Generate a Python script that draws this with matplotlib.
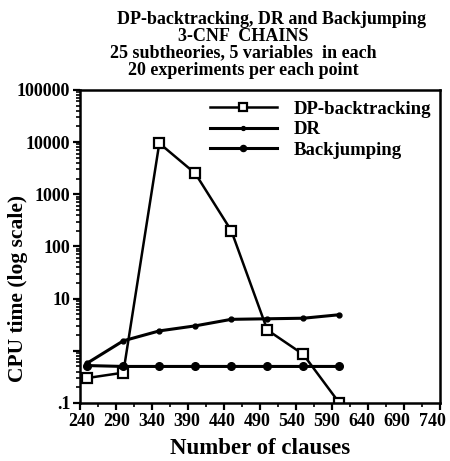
import matplotlib
matplotlib.use("Agg")
import matplotlib.pyplot as plt
import matplotlib.transforms as mtransforms
from matplotlib.ticker import FixedLocator, NullFormatter, LogLocator

clauses = [250, 300, 350, 400, 450, 500, 550, 600]
dp_backtracking = [0.3, 0.38, 9500, 2500, 200, 2.5, 0.85, 0.1]
dr = [0.58, 1.55, 2.4, 3.0, 4.0, 4.1, 4.2, 4.9]
backjumping = [0.52, 0.5, 0.5, 0.5, 0.5, 0.5, 0.5, 0.5]

x_ticks = [240, 290, 340, 390, 440, 490, 540, 590, 640, 690, 740]
y_ticks = [0.1, 1, 10, 100, 1000, 10000, 100000]
y_labels = [".1", "", "10", "100", "1000", "10000", "100000"]

title_lines = [
    "DP-backtracking, DR and Backjumping",
    "3-CNF  CHAINS",
    "25 subtheories, 5 variables  in each",
    "20 experiments per each point",
]
title_centers = [0.603, 0.54, 0.54, 0.54]

plt.rcParams["font.family"] = ["Liberation Serif", "DejaVu Serif"]
plt.rcParams["font.weight"] = "bold"

fig = plt.figure(figsize=(4.5, 4.61), dpi=100)
ax = fig.add_axes([0.178, 0.126, 0.8, 0.679])

ax.plot(clauses, dp_backtracking, color="black", lw=1.8, marker="s", ms=7,
        mfc="white", mec="black", mew=1.6, label="DP-backtracking")
ax.plot(clauses, dr, color="black", lw=2.2, marker="o", ms=3.5,
        label="DR")
ax.plot(clauses, backjumping, color="black", lw=2.2, marker="o", ms=5.5,
        label="Backjumping")

ax.set_yscale("log")
ax.set_xlim(240, 740)
ax.set_ylim(0.1, 100000)

ax.xaxis.set_major_locator(FixedLocator(x_ticks))
ax.xaxis.set_minor_locator(FixedLocator([t + 25 for t in x_ticks[:-1]]))
ax.set_xticklabels([str(t) for t in x_ticks])
ax.yaxis.set_major_locator(FixedLocator(y_ticks))
ax.set_yticklabels(y_labels)
ax.yaxis.set_minor_locator(LogLocator(base=10, subs=range(2, 10), numticks=20))
ax.yaxis.set_minor_formatter(NullFormatter())

ax.tick_params(axis="both", which="major", direction="out", length=5, width=1.6,
               labelsize=13, pad=2)
ax.tick_params(axis="both", which="minor", direction="out", length=3, width=1.2)
for lab in ax.get_xticklabels() + ax.get_yticklabels():
    lab.set_fontweight("bold")

# x tick labels sit on a slightly tighter spacing than the ticks themselves
for i, lab in enumerate(ax.get_xticklabels()):
    shift = (2.0 - 1.0 * i) / 100.0
    lab.set_transform(lab.get_transform() +
                      mtransforms.ScaledTranslation(shift, 0, fig.dpi_scale_trans))

for s in ax.spines.values():
    s.set_linewidth(1.8)

ax.set_xlabel("Number of clauses", fontsize=16.5, fontweight="bold", labelpad=6)
ax.set_ylabel("CPU time (log scale)", fontsize=15.5, fontweight="bold")
ax.yaxis.set_label_coords(-0.144, 0.367)

ax.legend(loc="upper left", bbox_to_anchor=(0.313, 1.019), frameon=False,
          handlelength=3.6, handletextpad=0.9, labelspacing=0.18,
          markerscale=0.8, prop={"weight": "bold", "size": 13.5})

y0 = 0.976
for i, (line, cx) in enumerate(zip(title_lines, title_centers)):
    fig.text(cx, y0 - i * 0.0365, line, ha="center", va="top",
             fontsize=13, fontweight="bold")

fig.savefig("out.png", dpi=100)
